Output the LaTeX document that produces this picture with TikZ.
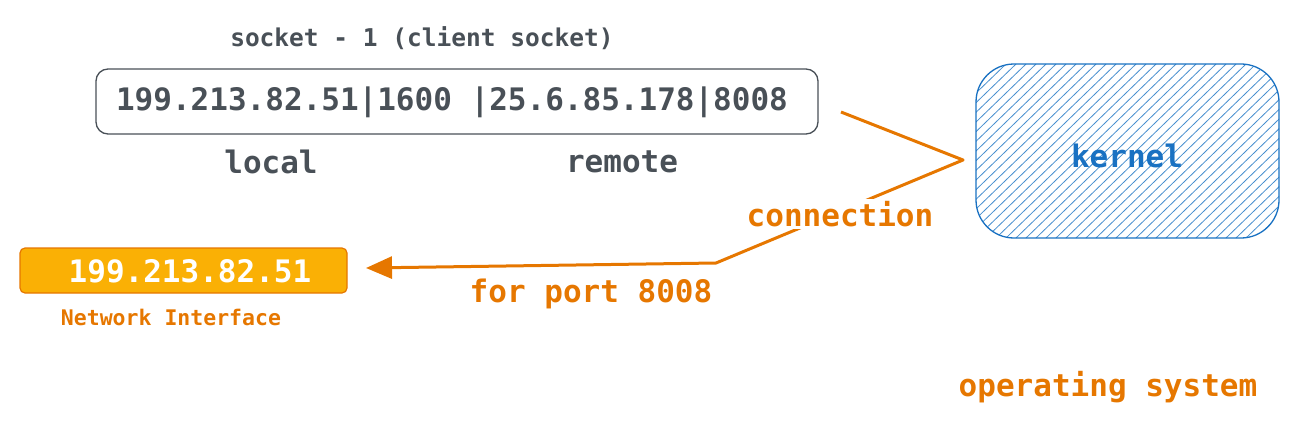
\documentclass[tikz,border=0pt]{standalone}
\usepackage{fontspec}
\setmonofont{DejaVu Sans Mono}
\usetikzlibrary{arrows.meta}
\definecolor{ink}{HTML}{495057}
\definecolor{org}{HTML}{E67700}
\definecolor{orgfill}{HTML}{FAB005}
\definecolor{blu}{HTML}{1971C2}
\tikzset{
  txt/.style={font=\ttfamily\bfseries\fontsize{31}{36}\selectfont, text=ink, inner sep=0pt},
  otxt/.style={txt, text=org},
}
\begin{document}
\begin{tikzpicture}[x=1pt,y=-1pt]
\useasboundingbox (0,0) rectangle (1297,425);
% socket box
\draw[ink, line width=1.3pt, rounded corners=12pt] (96,69) rectangle (818,134);
\node[txt] (addr) at (452,102) {199.213.82.51|1600 |25.6.85.178|8008};
\node[txt, font=\ttfamily\bfseries\fontsize{24.5}{28}\selectfont] (title) at (422,38) {socket - 1 (client socket)};
\node[txt] (local) at (271,162) {local};
\node[txt] (remote) at (622,162) {remote};
% kernel
\begin{scope}
\clip[rounded corners=38pt] (976,64) rectangle (1279,238);
\foreach \i in {0,10,...,500} {
  \draw[blu!80, line width=0.8pt] (976+\i-180,238) -- (976+\i,64);
}
\end{scope}
\draw[blu, line width=1.3pt, rounded corners=38pt] (976,64) rectangle (1279,238);
\node[txt, text=blu] (kernel) at (1127,156) {kernel};
% orange node
\draw[org, fill=orgfill, line width=1.2pt, rounded corners=5pt] (20,248) rectangle (347,293);
\node[txt, text=white] (nic) at (190,271) {199.213.82.51};
\node[otxt, font=\ttfamily\bfseries\fontsize{21.5}{25}\selectfont] (niclabel) at (171,317) {Network Interface};
% connector
\coordinate (c0) at (841,112);
\coordinate (c1) at (963,160);
\coordinate (c2) at (716,263);
\coordinate (c3) at (366,268);
\draw[org, line width=3pt, line join=round, -{Triangle[length=26pt,width=22pt]}] (c0) -- (c1) -- (c2) -- (c3);
\node[otxt, fill=white, inner sep=2pt] (conn) at (840,214) {connection};
\node[otxt] (port) at (591,294) {for port 8008};
\node[otxt] (os) at (1108,387) {operating system};
\end{tikzpicture}
\end{document}
